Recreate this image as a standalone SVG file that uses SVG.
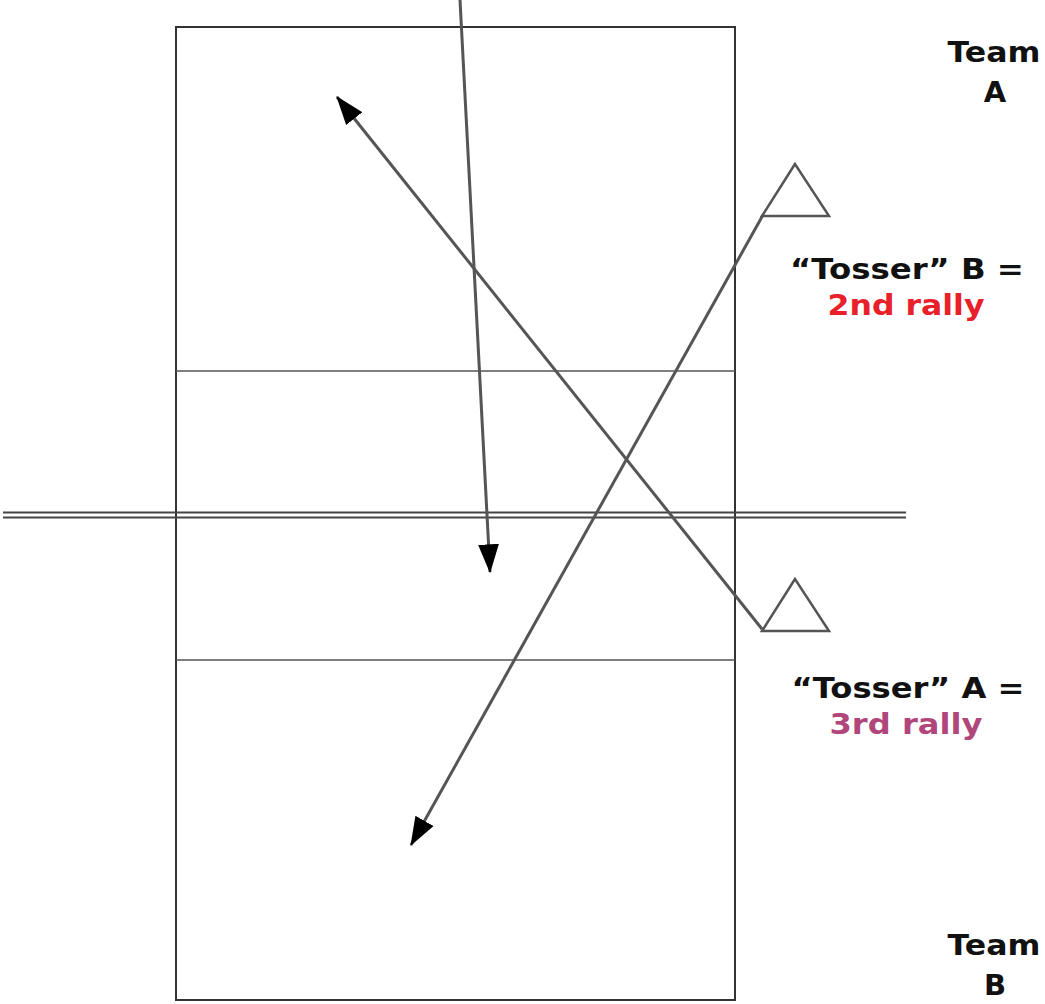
<svg xmlns="http://www.w3.org/2000/svg" width="1045" height="1004" viewBox="0 0 1045 1004">
<defs>
<style>
.court{fill:none;stroke:#333;stroke-width:2}
.thin{stroke:#555;stroke-width:1.3}
.net{stroke:#444;stroke-width:2}
.arr{stroke:#555;stroke-width:3;fill:none}
.tri{fill:#fff;stroke:#555;stroke-width:2.5}
.lbl{font-family:"DejaVu Sans","Verdana",sans-serif;font-weight:bold;font-size:29px;text-anchor:middle;fill:#111}
</style>
<marker id="ah" markerUnits="userSpaceOnUse" markerWidth="30" markerHeight="24" viewBox="0 0 26 20" refX="24" refY="10" orient="auto">
<path d="M0,1 L25,10 L0,19 Z" fill="#000"/>
</marker>
</defs>
<rect width="1045" height="1004" fill="#fff"/>
<g id="court">
<rect class="court" x="176" y="27" width="559" height="973"/>
<line class="thin" x1="176" y1="371" x2="735" y2="371"/>
<line class="thin" x1="176" y1="660" x2="735" y2="660"/>
<line class="net" x1="3" y1="512.5" x2="906" y2="512.5"/>
<line class="net" x1="3" y1="517.5" x2="906" y2="517.5"/>
</g>
<g id="tosserB"><polygon class="tri" points="795,164 762,216 829,216"/></g>
<g id="tosserA"><polygon class="tri" points="795,579 762,631 829,631"/></g>
<g id="connectors">
<line class="arr" x1="460" y1="0" x2="490" y2="572" marker-end="url(#ah)"/>
<line class="arr" x1="762" y1="629" x2="337" y2="97" marker-end="url(#ah)"/>
<line class="arr" x1="763" y1="215" x2="411" y2="845" marker-end="url(#ah)"/>
</g>
<g id="labels">
<text class="lbl" x="994" y="62" textLength="93" lengthAdjust="spacingAndGlyphs">Team</text>
<text class="lbl" x="995" y="102">A</text>
<text class="lbl" x="907" y="279" textLength="234" lengthAdjust="spacingAndGlyphs">“Tosser” B =</text>
<text class="lbl" x="906" y="315" textLength="157" lengthAdjust="spacingAndGlyphs" style="fill:#e8202a">2nd rally</text>
<text class="lbl" x="908" y="698" textLength="233" lengthAdjust="spacingAndGlyphs">“Tosser” A =</text>
<text class="lbl" x="906" y="734" textLength="153" lengthAdjust="spacingAndGlyphs" style="fill:#b0467a">3rd rally</text>
<text class="lbl" x="994" y="955" textLength="93" lengthAdjust="spacingAndGlyphs">Team</text>
<text class="lbl" x="995" y="995">B</text>
</g>
</svg>
